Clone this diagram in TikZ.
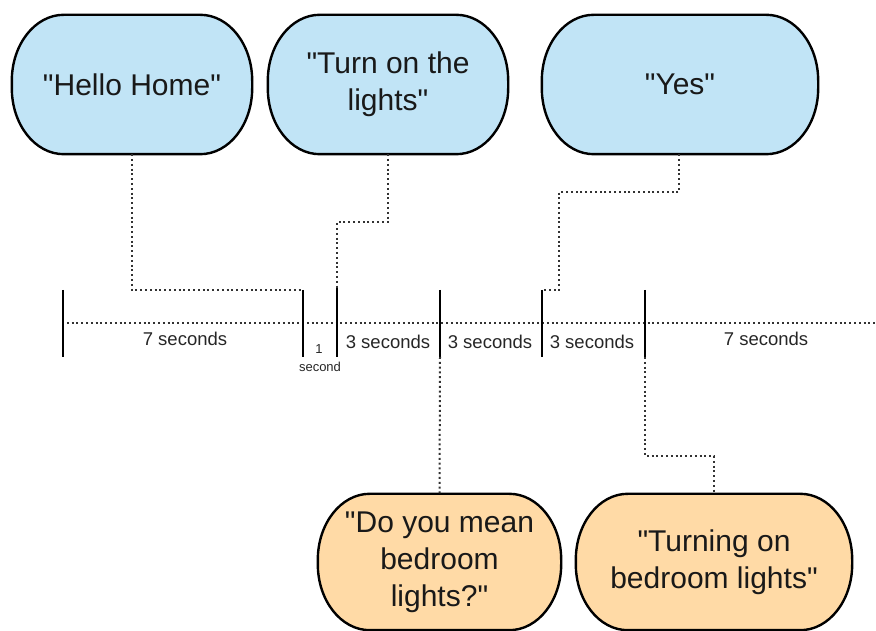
\documentclass[tikz,border=0pt]{standalone}
\usepackage{fontspec}
\setmainfont{Liberation Sans}[Ligatures=TeXOff]
\pgfdeclarelayer{background}
\pgfsetlayers{background,main}
\definecolor{speechblue}{RGB}{193,228,246}
\definecolor{speechorange}{RGB}{255,218,166}
\definecolor{dotgray}{RGB}{50,50,50}
\newcommand{\rxx}{52pt}
\newcommand{\ryy}{66pt}
\newcommand{\stadiumshape}[2]{%
  \begin{pgfonlayer}{background}
  \filldraw[boxline, fill=#2]
    ([xshift=\rxx]#1.north west) -- ([xshift=-\rxx]#1.north east)
    arc[start angle=90,end angle=0,x radius=\rxx,y radius=\ryy]
    -- ([yshift=\ryy]#1.south east)
    arc[start angle=0,end angle=-90,x radius=\rxx,y radius=\ryy]
    -- ([xshift=\rxx]#1.south west)
    arc[start angle=270,end angle=180,x radius=\rxx,y radius=\ryy]
    -- ([yshift=-\ryy]#1.north west)
    arc[start angle=180,end angle=90,x radius=\rxx,y radius=\ryy]
    -- cycle;
  \end{pgfonlayer}}
\tikzset{
  boxline/.style={draw=black, line width=2.4pt},
  speech/.style={draw=none, inner sep=0pt, align=center, text=black!90,
    font=\fontsize{30}{37}\selectfont},
  connector/.style={draw=dotgray, line width=2pt, dash pattern=on 2pt off 2.8pt},
  tickmark/.style={draw=black, line width=2.6pt},
  seclabel/.style={font=\fontsize{18.5}{20}\selectfont, text=black!85, inner sep=0pt},
  smalllabel/.style={font=\fontsize{13}{15}\selectfont, text=black!85, inner sep=0pt}
}
\begin{document}
\begin{tikzpicture}[x=1pt,y=1pt]
\useasboundingbox (0,0) rectangle (876,631);
% speech boxes
\node[speech, minimum width=240pt, minimum height=139pt] (hello) at (132,546.5) {"Hello Home"};
\node[speech, minimum width=240pt, minimum height=139pt] (turn) at (388,546.5) {"Turn on the\\lights"};
\node[speech, minimum width=276pt, minimum height=139pt] (yes) at (680,546.5) {"Yes"};
\node[speech, minimum width=243pt, minimum height=136pt] (mean) at (439.5,69) {"Do you mean\\bedroom\\lights?"};
\node[speech, minimum width=276pt, minimum height=136pt] (turning) at (714,69) {"Turning on\\bedroom lights"};
\stadiumshape{hello}{speechblue}
\stadiumshape{turn}{speechblue}
\stadiumshape{yes}{speechblue}
\stadiumshape{mean}{speechorange}
\stadiumshape{turning}{speechorange}
% timeline
\coordinate (lineL) at (62,308);
\coordinate (lineR) at (876,308);
\draw[connector] (lineL) -- (lineR);
\coordinate (t1a) at (63,341); \coordinate (t1b) at (63,274);
\coordinate (t2a) at (303,341); \coordinate (t2b) at (303,274);
\coordinate (t3a) at (337,343); \coordinate (t3b) at (337,274);
\coordinate (t4a) at (440,341); \coordinate (t4b) at (440,274);
\coordinate (t5a) at (542,341); \coordinate (t5b) at (542,274);
\coordinate (t6a) at (645,341); \coordinate (t6b) at (645,274);
\draw[tickmark] (t1a) -- (t1b);
\draw[tickmark] (t2a) -- (t2b);
\draw[tickmark] (t3a) -- (t3b);
\draw[tickmark] (t4a) -- (t4b);
\draw[tickmark] (t5a) -- (t5b);
\draw[tickmark] (t6a) -- (t6b);
% labels
\node[seclabel] (l1) at (185,292) {7 seconds};
\node[smalllabel] (l2a) at (319,282) {1};
\node[smalllabel] (l2b) at (320,264) {second};
\node[seclabel] (l3) at (388,289) {3 seconds};
\node[seclabel] (l4) at (490,289) {3 seconds};
\node[seclabel] (l5) at (592,289) {3 seconds};
\node[seclabel] (l6) at (766,292) {7 seconds};
% connectors
\draw[connector] (hello.south) -- (132,341) -- (t2a);
\draw[connector] (turn.south) -- (388,409) -- (337,409) -- (t3a);
\draw[connector] ([xshift=-1pt]yes.south) -- (679,439) -- (559,439) -- (559,341) -- (t5a);
\draw[connector] (t4b) -- (mean.north);
\draw[connector] (t6b) -- (645,175) -- (714,175) -- (turning.north);
\end{tikzpicture}
\end{document}
